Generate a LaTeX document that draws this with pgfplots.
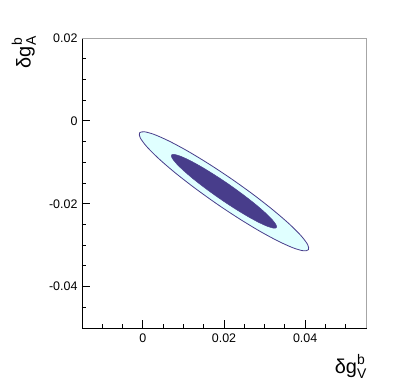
\documentclass[border=0pt]{standalone}
\usepackage{pgfplots}
\pgfplotsset{compat=1.18}
\usepackage{amsmath}
\usepackage{fontspec}
\setmainfont{Liberation Sans}

\definecolor{outerfill}{RGB}{224,255,255}
\definecolor{contour}{RGB}{72,61,139}

% 68% and 95% CL contours
\pgfplotstableread{
x y
0.04081 -0.03110
0.03957 -0.03136
0.03700 -0.03064
0.03327 -0.02899
0.02864 -0.02653
0.02342 -0.02341
0.01796 -0.01986
0.01265 -0.01611
0.00783 -0.01243
0.00384 -0.00905
0.00096 -0.00622
-0.00063 -0.00412
-0.00081 -0.00290
0.00043 -0.00264
0.00300 -0.00336
0.00673 -0.00501
0.01136 -0.00747
0.01658 -0.01059
0.02204 -0.01414
0.02736 -0.01789
0.03217 -0.02158
0.03616 -0.02495
0.03904 -0.02778
0.04063 -0.02988
}\outercl
\pgfplotstableread{
x y
0.03294 -0.02577
0.03219 -0.02590
0.03061 -0.02543
0.02831 -0.02439
0.02544 -0.02284
0.02220 -0.02089
0.01881 -0.01868
0.01550 -0.01635
0.01249 -0.01407
0.01000 -0.01198
0.00819 -0.01024
0.00719 -0.00896
0.00706 -0.00823
0.00781 -0.00810
0.00939 -0.00857
0.01169 -0.00961
0.01456 -0.01116
0.01780 -0.01311
0.02120 -0.01532
0.02450 -0.01765
0.02751 -0.01993
0.03000 -0.02202
0.03181 -0.02376
0.03281 -0.02504
}\innercl

\begin{document}
\begin{tikzpicture}
\useasboundingbox (-82bp,-59bp) rectangle (325bp,328bp);
\begin{axis}[
    at={(0,0)}, anchor=south west,
    scale only axis, width=284bp, height=290bp,
    xmin=-0.015, xmax=0.055, ymin=-0.05, ymax=0.02,
    scaled ticks=false,
    xtick={0,0.02,0.04}, xticklabels={0,0.02,0.04},
    ytick={-0.04,-0.02,0,0.02}, yticklabels={-0.04,-0.02,0,0.02},
    minor xtick={-0.01,-0.005,0.005,0.01,0.015,0.025,0.03,0.035,0.045,0.05},
    minor ytick={-0.045,-0.035,-0.03,-0.025,-0.015,-0.01,-0.005,0.005,0.01,0.015},
    xtick pos=bottom, ytick pos=left,
    major tick length=8bp, minor tick length=4bp,
    tick style={black, line width=0.8bp},
    axis line style={line width=0.8bp},
    tick label style={font=\fontsize{12.5}{14}\selectfont},
    xticklabel style={yshift=-2bp},
    yticklabel style={xshift=-1bp},
]
\addplot[fill=outerfill, draw=contour, line width=0.8bp, smooth cycle] table {\outercl};
\addplot[fill=contour, draw=contour, line width=0.4bp, smooth cycle] table {\innercl};
\end{axis}
\draw[gray!70, line width=0.8bp] (0,290bp) -- (284bp,290bp) -- (284bp,0);
\node[rotate=90, anchor=south east, inner sep=0pt,
    font=\fontsize{20}{24}\selectfont] at (-46bp,292bp) {$\text{δg}^{\text{b}}_{\text{A}}$};
\node[anchor=north east, inner sep=0pt,
    font=\fontsize{20}{24}\selectfont] at (285bp,-26bp) {$\text{δg}^{\text{b}}_{\text{V}}$};
\end{tikzpicture}
\end{document}
